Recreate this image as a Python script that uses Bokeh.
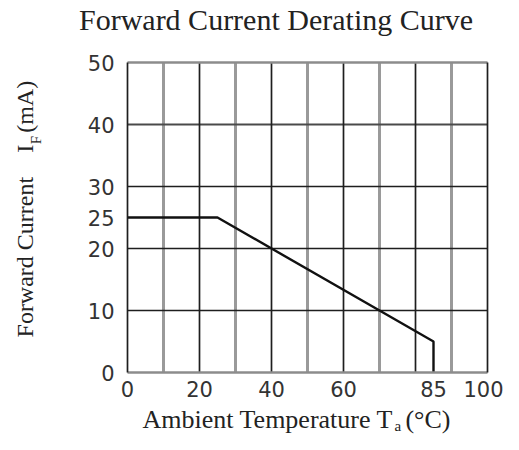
import math
from bokeh.plotting import figure
from bokeh.models import Range1d, FixedTicker, Grid, Label, LinearAxis
from bokeh.embed import file_html
from bokeh.resources import INLINE

# ---- data ----
temperature = [0, 25, 85, 85]
current = [25, 25, 5, 0]
x_ticks = [0, 20, 40, 60, 85, 100]
y_ticks = [0, 10, 20, 25, 30, 40, 50]
x_dark_grid = [20, 40, 60, 80]
x_gray_grid = [10, 30, 50, 70, 90]
y_dark_grid = [10, 20, 30]
y_mid_grid = [40]

NB = "\u00a0"
title_text = "Forward Current Derating Curve"
xlabel_text = "Ambient Temperature T" + NB * 2 + "(°C)"
xlabel_sub = "a"
ylabel_text = "Forward Current" + NB * 4 + "I" + NB * 2 + "(mA)"
ylabel_sub = "F"

p = figure(width=503, height=434, output_backend="svg", toolbar_location=None,
           x_range=Range1d(0, 100), y_range=Range1d(0, 50),
           min_border_left=127, min_border_right=16,
           min_border_top=62, min_border_bottom=62)
p.outline_line_color = None
p.background_fill_color = "white"
p.border_fill_color = "white"
p.xgrid.visible = False
p.ygrid.visible = False

def add_grid(dim, ticks, color, width):
    g = Grid(dimension=dim, ticker=FixedTicker(ticks=ticks),
             grid_line_color=color, grid_line_width=width)
    p.add_layout(g)

add_grid(0, x_gray_grid, "#9a9a9a", 3)
add_grid(1, y_mid_grid, "#4a4a4a", 2)
add_grid(1, y_dark_grid, "#1e1e1e", 1.7)
add_grid(0, x_dark_grid, "#1e1e1e", 1.7)

p.line(temperature, current, line_color="#111111", line_width=2.4)

xax = p.below[0]
yax = p.left[0]
rax = LinearAxis(ticker=FixedTicker(ticks=[]))
tax = LinearAxis(ticker=FixedTicker(ticks=[]))
p.add_layout(rax, "right")
p.add_layout(tax, "above")

for ax in (xax, yax, rax, tax):
    ax.major_tick_line_color = None
    ax.minor_tick_line_color = None
    ax.major_tick_out = 0
    ax.major_tick_in = 0
    ax.minor_tick_out = 0
    ax.minor_tick_in = 0
    ax.major_label_text_font = "DejaVu Sans"
    ax.major_label_text_font_size = "21px"
    ax.major_label_text_color = "#333333"
    ax.major_label_standoff = 0

xax.ticker = FixedTicker(ticks=x_ticks)
yax.ticker = FixedTicker(ticks=y_ticks)
xax.major_label_standoff = 8
yax.major_label_standoff = 13
xax.axis_line_color = "#8c8c8c"
xax.axis_line_width = 2.5
tax.axis_line_color = "#8c8c8c"
tax.axis_line_width = 2.5
yax.axis_line_color = "#1e1e1e"
yax.axis_line_width = 1.7
rax.axis_line_color = "#1e1e1e"
rax.axis_line_width = 1.7

serif = "Liberation Serif"
ink = "#222222"

def lab(x, y, text, size, angle=0.0, align="left"):
    return Label(x=x, y=y, text=text, angle=angle, text_align=align,
                 text_baseline="alphabetic", text_font=serif,
                 text_font_size=size, text_color=ink)

rot = math.pi / 2
# title (top panel)
p.add_layout(lab(41.25, 56.9, title_text, "30px", align="center"), "above")
# y label subscript (rotated, short -> top panel)
p.add_layout(lab(-25.5, 36.8, ylabel_sub, "15px", angle=rot), "above")
# y label main (rotated -> left panel)
p.add_layout(lab(-28.6, 5.65, ylabel_text, "24px", angle=rot), "left")
# x label subscript (short -> left panel)
p.add_layout(lab(74.2, -8.6, xlabel_sub, "15px"), "left")
# x label main (bottom panel)
p.add_layout(lab(4.17, -7.55, xlabel_text, "26px"), "below")

open("out.html", "w").write(file_html(p, INLINE))
